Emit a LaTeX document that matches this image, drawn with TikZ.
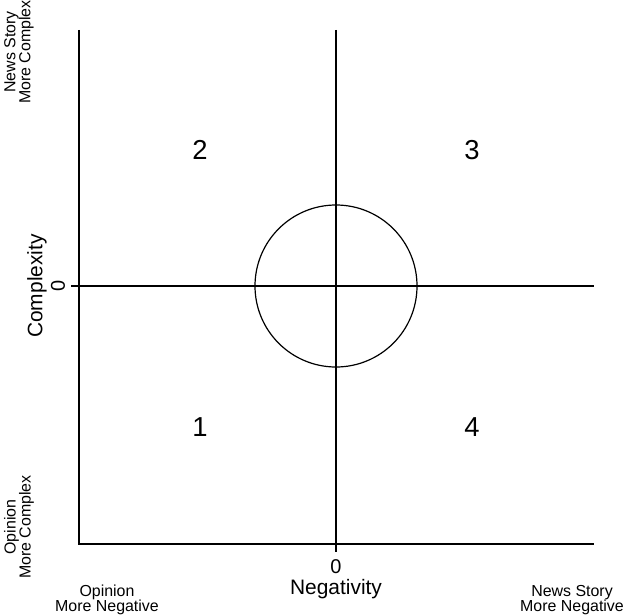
\documentclass[tikz,border=0pt]{standalone}
\usepackage{fontspec}
\setmainfont{Liberation Sans}
\begin{document}
\begin{tikzpicture}[x=1bp,y=-1bp,
  ln/.style={line width=1.2bp,black},
  quad/.style={font=\fontsize{27.5}{30}\selectfont,inner sep=0},
  zero/.style={font=\fontsize{20}{22}\selectfont,inner sep=0},
  axtitle/.style={font=\fontsize{21}{24}\selectfont,inner sep=0},
  corner/.style={font=\fontsize{16}{15}\selectfont,align=center,inner sep=0}]
\useasboundingbox (0,0) rectangle (628,615);
% axes
\coordinate (lt) at (79,30);
\coordinate (lb) at (79,544);
\coordinate (rb) at (594,544);
\coordinate (vt) at (336,30);
\coordinate (vb) at (336,552);
\coordinate (hl) at (71,286);
\coordinate (hr) at (594,286);
\coordinate (cc) at (336,286);
\draw[ln] (lt) -- (lb) -- (rb);
\draw[ln] (vt) -- (vb);
\draw[ln] (hl) -- (hr);
\draw[ln] (cc) circle[radius=81];
% quadrant numbers
\node[quad] (q2) at (200,150) {2};
\node[quad] (q3) at (472,150) {3};
\node[quad] (q1) at (200,427) {1};
\node[quad] (q4) at (472,427) {4};
% axis labels
\node[zero] (zx) at (336,567) {0};
\node[axtitle] (nx) at (336,589) {Negativity};
\node[zero,rotate=90] (zy) at (58,286) {0};
\node[axtitle,rotate=90] (ny) at (37,286) {Complexity};
% corner labels
\node[corner] (bl) at (107,600) {Opinion\\More Negative};
\node[corner] (br) at (572,600) {News Story\\More Negative};
\node[corner,rotate=90] (tl) at (19,52) {News Story\\More Complex};
\node[corner,rotate=90] (ll) at (19,527) {Opinion\\More Complex};
\end{tikzpicture}
\end{document}
